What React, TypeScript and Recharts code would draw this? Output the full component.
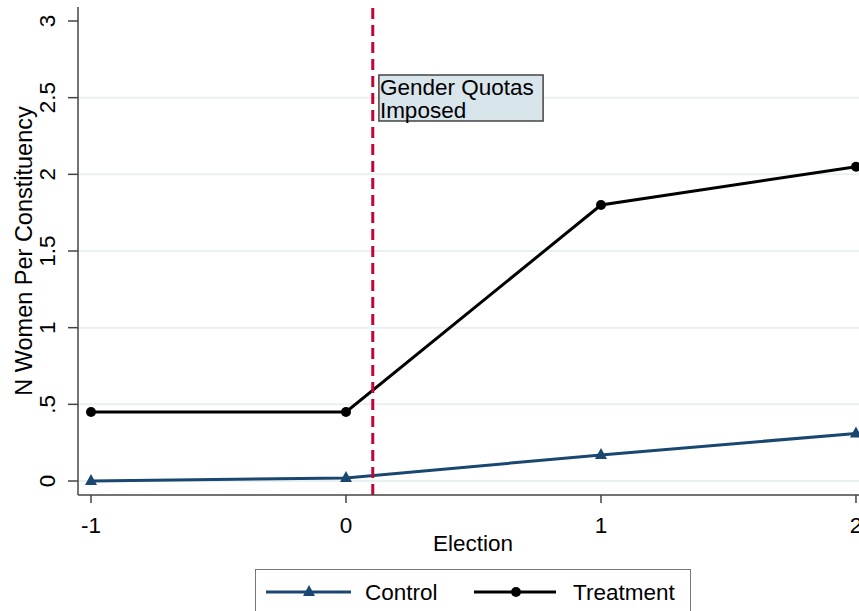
import React from 'react';
import {
    LineChart, Line, XAxis, YAxis, CartesianGrid, ReferenceLine, ReferenceArea,
} from 'recharts';

const elections = [-1, 0, 1, 2];
const control = [0.0, 0.02, 0.17, 0.31];
const treatment = [0.45, 0.45, 1.8, 2.05];
const yTicks = [0, 0.5, 1, 1.5, 2, 2.5, 3];
const yTickLabels = ['0', '.5', '1', '1.5', '2', '2.5', '3'];
const gridValues = [0, 0.5, 1, 1.5, 2, 2.5];
const quotaYear = 0.105;
const annotation = ['Gender Quotas', 'Imposed'];

const data = elections.map((e, i) => ({ x: e, control: control[i], treatment: treatment[i] }));

const FONT = '"Liberation Sans", Arial, sans-serif';
const FS = 22.5;
const NAVY = '#1a476f';

const YTick = ({ x, y, payload }: any) => {
    const i = yTicks.indexOf(payload.value);
    return (
        <text transform={`translate(${x - 11}, ${y}) rotate(-90)`} textAnchor="middle"
            fontSize={FS} fontFamily={FONT} fill="#000">
            {i >= 0 ? yTickLabels[i] : payload.value}
        </text>
    );
};

const XTick = ({ x, y, payload }: any) => (
    <text x={x} y={y + 28} textAnchor="middle" fontSize={FS} fontFamily={FONT} fill="#000">
        {payload.value}
    </text>
);

const Triangle = ({ cx, cy }: any) => {
    if (cx == null || cy == null) return null;
    return <path d={`M${cx},${cy - 7} L${cx + 6},${cy + 4} L${cx - 6},${cy + 4} Z`} fill={NAVY} />;
};

const Circle = ({ cx, cy }: any) => {
    if (cx == null || cy == null) return null;
    return <circle cx={cx} cy={cy} r={5} fill="#000" />;
};

const BoxLabel = ({ viewBox }: any) => (
    <text fontSize={FS} fontFamily={FONT} fill="#000">
        <tspan x={viewBox.x + 1} y={viewBox.y + 20}>{annotation[0]}</tspan>
        <tspan x={viewBox.x + 1} y={viewBox.y + 43}>{annotation[1]}</tspan>
    </text>
);

const ChartLegend = () => (
    <div style={{
        position: 'absolute', left: 255, top: 569, width: 436, height: 60,
        border: '1px solid #777', background: '#fff', boxSizing: 'border-box',
    }}>
        <svg width={436} height={60}>
            <line x1={10} x2={95} y1={22} y2={22} stroke={NAVY} strokeWidth={3} />
            <Triangle cx={53} cy={22} />
            <text x={109} y={30} fontSize={FS} fontFamily={FONT}>Control</text>
            <line x1={218} x2={300} y1={22} y2={22} stroke="#000" strokeWidth={3} />
            <Circle cx={260} cy={22} />
            <text x={317} y={30} fontSize={FS} fontFamily={FONT}>Treatment</text>
        </svg>
    </div>
);

export default function App() {
    return (
        <div style={{ position: 'fixed', left: 0, top: 0, width: 859, height: 611, overflow: 'hidden', background: '#fff' }}>
            <LineChart width={900} height={611} data={data}
                margin={{ top: 7, right: 30, left: 0, bottom: 0 }}>
                <CartesianGrid vertical={false} horizontalValues={gridValues} stroke="#e8f0f2" strokeWidth={2} />
                <XAxis dataKey="x" type="number" domain={[-1.051, 2.055]} ticks={elections}
                    height={116} tick={<XTick />} tickSize={8} stroke="#444" strokeWidth={1.5}
                    allowDataOverflow
                    label={{
                        content: ({ viewBox }: any) => (
                            <text x={346 + 127} y={viewBox.y + 56} textAnchor="middle"
                                fontSize={FS} fontFamily={FONT} fill="#000">Election</text>
                        ),
                    }} />
                <YAxis type="number" domain={[-0.0913, 3.0913]} ticks={yTicks} width={78}
                    tick={<YTick />} tickSize={10} stroke="#444" strokeWidth={1.5} allowDataOverflow
                    label={{
                        content: () => (
                            <text transform="translate(32, 251) rotate(-90)" textAnchor="middle"
                                fontSize={23.5} fontFamily={FONT} fill="#000">N Women Per Constituency</text>
                        ),
                    }} />
                <ReferenceArea x1={0.129} x2={0.773} y1={2.348} y2={2.648} fill="#d8e5eb" fillOpacity={1}
                    stroke="#444" strokeWidth={1.5} label={<BoxLabel />} />
                <Line dataKey="control" stroke={NAVY} strokeWidth={3} dot={<Triangle />}
                    isAnimationActive={false} />
                <Line dataKey="treatment" stroke="#000" strokeWidth={3} dot={<Circle />}
                    isAnimationActive={false} />
                <ReferenceLine x={quotaYear} stroke="#c10534" strokeWidth={3} strokeDasharray="11 6" />
            </LineChart>
            <ChartLegend />
        </div>
    );
}
